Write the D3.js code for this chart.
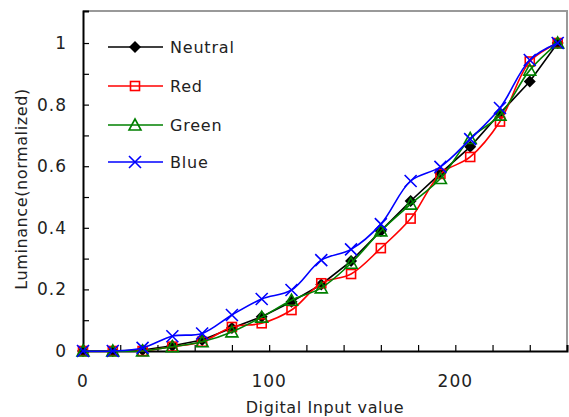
<!DOCTYPE html>
<html>
<head>
<meta charset="utf-8">
<script src="https://cdn.jsdelivr.net/npm/d3@7"></script>
<style>
  body { margin: 0; background: #fff; }
  text { font-family: "DejaVu Sans", sans-serif; fill: #222; }
</style>
</head>
<body>
<svg id="chart" width="569" height="417"></svg>
<script>
// digital input codes
const inputs = [0, 16, 32, 48, 64, 80, 96, 112, 128, 144, 160, 176, 192, 208, 224, 240, 255];

// normalized luminance
const neutral = [0, 0, 0.003, 0.017, 0.036, 0.075, 0.111, 0.16, 0.216, 0.292, 0.39, 0.487, 0.577, 0.663, 0.772, 0.875, 1.0];
const red     = [0, 0, 0.0, 0.014, 0.03, 0.078, 0.09, 0.133, 0.22, 0.25, 0.334, 0.43, 0.575, 0.63, 0.745, 0.94, 1.0];
const green   = [0, 0, 0.0, 0.014, 0.03, 0.062, 0.11, 0.165, 0.205, 0.285, 0.39, 0.477, 0.56, 0.69, 0.766, 0.912, 1.0];
const blue    = [0, 0, 0.01, 0.048, 0.057, 0.117, 0.169, 0.198, 0.295, 0.33, 0.412, 0.552, 0.598, 0.688, 0.789, 0.945, 1.0];

const xTicks = [0, 100, 200];
const yTicks = [0, 0.2, 0.4, 0.6, 0.8, 1];

const series = [
  { name: "Neutral", vals: neutral, color: "#000000", mark: "diamond", curve: d3.curveLinear },
  { name: "Red",     vals: red,     color: "#ff0000", mark: "square",  curve: d3.curveCatmullRom },
  { name: "Green",   vals: green,   color: "#008000", mark: "triangle",curve: d3.curveCatmullRom },
  { name: "Blue",    vals: blue,    color: "#0000ff", mark: "cross",   curve: d3.curveCatmullRom }
];

const svg = d3.select("#chart");
const mL = 83, mR = 567, mT = 11, mB = 351;

const gx = d3.scaleLinear().domain([0, 260]).range([mL, mR]);
const gy = d3.scaleLinear().domain([0, 1.104]).range([mB, mT]);

// frame (top / right in grey)
svg.append("path")
  .attr("d", `M${mL},${mT}H${mR}V${mB}`)
  .attr("fill", "none").attr("stroke", "#999").attr("stroke-width", 2);

// axes, ticks pointing inward
const xAxis = svg.append("g").attr("transform", `translate(0,${mB})`)
  .call(d3.axisBottom(gx).tickValues(d3.range(0, 261, 20)).tickSize(-6).tickFormat(""));
const yAxis = svg.append("g").attr("transform", `translate(${mL},0)`)
  .call(d3.axisLeft(gy).tickValues(d3.range(0, 1.05, 0.1)).tickSize(-6).tickFormat(""));
[xAxis, yAxis].forEach(a => {
  a.select(".domain").attr("stroke", "#000").attr("stroke-width", 2);
  a.selectAll(".tick line").attr("stroke", "#000").attr("stroke-width", 1.2);
});

svg.selectAll(".xlab").data(xTicks).enter().append("text")
  .attr("x", d => gx(d)).attr("y", 387)
  .attr("text-anchor", "middle").style("font-size", "17px")
  .style("letter-spacing", "1px")
  .text(d => d);

svg.selectAll(".ylab").data(yTicks).enter().append("text")
  .attr("x", 67).attr("y", d => gy(d) + 6)
  .attr("text-anchor", "end").style("font-size", "17px")
  .style("letter-spacing", "1px")
  .text(d => d === 0 || d === 1 ? d : d.toFixed(1));

svg.append("text")
  .attr("x", (mL + mR) / 2).attr("y", 413)
  .attr("text-anchor", "middle").style("font-size", "16px")
  .style("letter-spacing", "0.6px")
  .text("Digital Input value");

svg.append("text")
  .attr("transform", "translate(27,189) rotate(-90)")
  .attr("text-anchor", "middle").style("font-size", "16px")
  .style("letter-spacing", "0.6px")
  .text("Luminance(normalized)");

// marker shapes
function drawMark(g, kind, color) {
  if (kind === "diamond") {
    g.append("path").attr("d", "M0,-6L6,0L0,6L-6,0Z").attr("fill", color);
  } else if (kind === "square") {
    g.append("rect").attr("x", -4.5).attr("y", -4.5).attr("width", 9).attr("height", 9)
      .attr("fill", "none").attr("stroke", color).attr("stroke-width", 1.6);
  } else if (kind === "triangle") {
    g.append("path").attr("d", "M0,-6L6,5L-6,5Z")
      .attr("fill", "none").attr("stroke", color).attr("stroke-width", 1.6);
  } else {
    g.append("path").attr("d", "M-6,-6L6,6M-6,6L6,-6")
      .attr("fill", "none").attr("stroke", color).attr("stroke-width", 1.6);
  }
}

series.forEach(s => {
  const line = d3.line().curve(s.curve)
    .x((d, i) => gx(inputs[i])).y(d => gy(d));
  svg.append("path").datum(s.vals)
    .attr("d", line)
    .attr("fill", "none").attr("stroke", s.color).attr("stroke-width", 1.6);
  s.vals.forEach((v, i) => {
    const g = svg.append("g").attr("transform", `translate(${gx(inputs[i])},${gy(v)})`);
    drawMark(g, s.mark, s.color);
  });
});

// legend
const legY = [47, 86, 125, 162];
series.forEach((s, i) => {
  const g = svg.append("g").attr("transform", `translate(0,${legY[i]})`);
  g.append("line").attr("x1", 108).attr("x2", 163).attr("y1", 0).attr("y2", 0)
    .attr("stroke", s.color).attr("stroke-width", 1.6);
  const m = g.append("g").attr("transform", "translate(135,0)");
  drawMark(m, s.mark, s.color);
  g.append("text").attr("x", 170).attr("y", 6)
    .style("font-size", "16px").style("letter-spacing", "0.8px")
    .text(s.name);
});
</script>
</body>
</html>
